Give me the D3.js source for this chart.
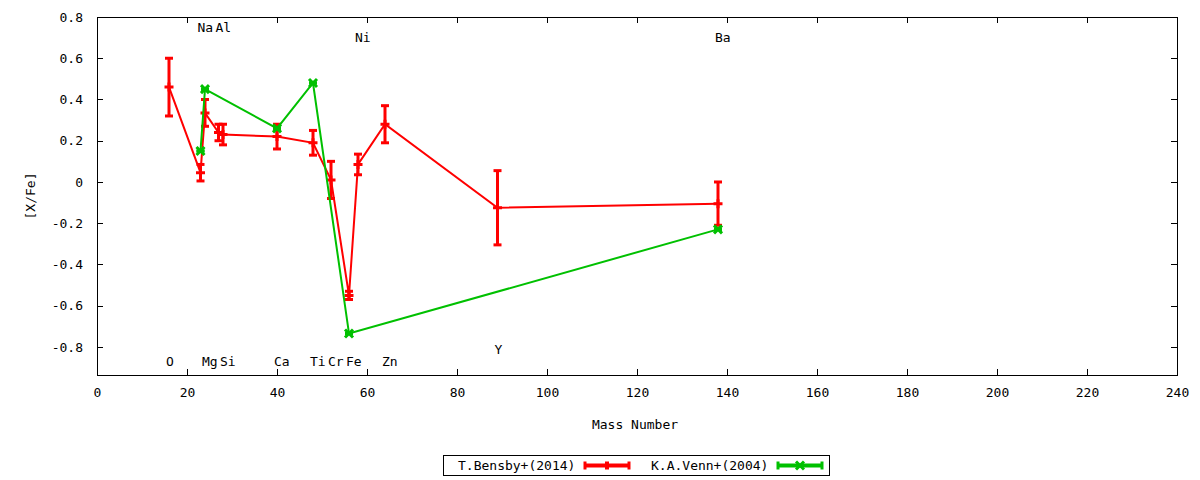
<!DOCTYPE html>
<html>
<head>
<meta charset="utf-8">
<script src="https://cdn.jsdelivr.net/npm/d3@7"></script>
<style>
  body { margin: 0; background: #fff; }
  text { font-family: "DejaVu Sans Mono", monospace; font-size: 13px; fill: #000; }
</style>
</head>
<body>
<div id="chart"></div>
<script>
// T.Bensby+(2014)
var bensbyElements = ["O", "Na", "Mg", "Al", "Si", "Ca", "Ti", "Cr", "Fe", "Ni", "Zn", "Y", "Ba"];
var bensbyMass = [16, 23, 24, 27, 28, 40, 48, 52, 56, 58, 64, 89, 138];
var bensbyValue = [0.46, 0.045, 0.335, 0.24, 0.23, 0.22, 0.19, 0.01, -0.55, 0.085, 0.28, -0.125, -0.105];
var bensbyError = [0.14, 0.04, 0.065, 0.04, 0.05, 0.06, 0.06, 0.09, 0.02, 0.05, 0.09, 0.18, 0.105];

// K.A.Venn+(2004)
var vennMass = [23, 24, 40, 48, 56, 138];
var vennValue = [0.15, 0.45, 0.26, 0.48, -0.735, -0.23];
var vennError = [0, 0, 0, 0, 0, 0];

// element labels (mass, y position)
var labelNames = ["O", "Na", "Mg", "Al", "Si", "Ca", "Ti", "Cr", "Fe", "Ni", "Zn", "Y", "Ba"];
var labelMass = [16, 23, 24, 27, 28, 40, 48, 52, 56, 58, 64, 89, 138];
var labelY = [-0.87, 0.75, -0.87, 0.75, -0.87, -0.87, -0.87, -0.87, -0.87, 0.70, -0.87, -0.81, 0.70];

var xTicks = d3.range(0, 241, 20);
var yTicks = [-0.8, -0.6, -0.4, -0.2, 0, 0.2, 0.4, 0.6, 0.8];

var svgWidth = 1200;
var svgHeight = 480;

var margin = {
    top: 17,
    bottom: 105,
    right: 23,
    left: 97
};

var width = svgWidth - margin.left - margin.right;
var height = svgHeight - margin.top - margin.bottom;

var svg = d3.select("#chart")
    .append("svg")
    .attr("width", svgWidth)
    .attr("height", svgHeight);

var chartGroup = svg.append("g")
    .attr("transform", `translate(${margin.left}, ${margin.top})`);

var xScale = d3.scaleLinear().domain([0, 240]).range([0, width]);
var yScale = d3.scaleLinear().domain([-0.936, 0.8]).range([height, 0]);

// ticks, mirrored on all sides, pointing inward
var tickLen = 6;
var yFormat = d => d === 0 ? "0" : d3.format(".1f")(d).replace("−", "-");

chartGroup.append("g")
    .attr("transform", `translate(0, ${height})`)
    .call(d3.axisBottom(xScale).tickValues(xTicks).tickSize(-tickLen).tickPadding(13).tickFormat(d3.format("d")))
    .call(g => g.select(".domain").remove());
chartGroup.append("g")
    .call(d3.axisTop(xScale).tickValues(xTicks).tickSize(-tickLen).tickFormat(""))
    .call(g => g.select(".domain").remove());
chartGroup.append("g")
    .call(d3.axisLeft(yScale).tickValues(yTicks).tickSize(-tickLen).tickPadding(14).tickFormat(yFormat))
    .call(g => g.select(".domain").remove());
chartGroup.append("g")
    .attr("transform", `translate(${width}, 0)`)
    .call(d3.axisRight(yScale).tickValues(yTicks).tickSize(-tickLen).tickFormat(""))
    .call(g => g.select(".domain").remove());

chartGroup.selectAll(".tick line").attr("stroke", "#000").attr("shape-rendering", "crispEdges");
chartGroup.selectAll(".tick text")
    .style("font-family", "'DejaVu Sans Mono', monospace")
    .style("font-size", "13px")
    .attr("fill", "#000");

// frame
chartGroup.append("rect")
    .attr("x", 0).attr("y", 0)
    .attr("width", width).attr("height", height)
    .attr("fill", "none")
    .attr("stroke", "#000")
    .attr("shape-rendering", "crispEdges");

// axis titles
svg.append("text")
    .attr("x", margin.left + width / 2 - 2)
    .attr("y", 429)
    .attr("text-anchor", "middle")
    .text("Mass Number");

svg.append("text")
    .attr("transform", `translate(35, ${margin.top + height / 2}) rotate(-90)`)
    .attr("text-anchor", "middle")
    .text("[X/Fe]");

// element labels
chartGroup.selectAll(".elabel")
    .data(labelNames)
    .enter()
    .append("text")
    .attr("class", "elabel")
    .attr("x", (d, i) => xScale(labelMass[i]) - 3)
    .attr("y", (d, i) => yScale(labelY[i]))
    .attr("dy", "0.35em")
    .text(d => d);

var red = "#ff0000";
var green = "#00c000";

function drawSeries(mass, value, error, color, marker) {
    var pts = mass.map((m, i) => ({ x: xScale(m), y: yScale(value[i]), lo: yScale(value[i] - error[i]), hi: yScale(value[i] + error[i]) }));
    var g = chartGroup.append("g");

    var line = d3.line().x(d => d.x).y(d => d.y);
    g.append("path")
        .datum(pts)
        .attr("d", line)
        .attr("fill", "none")
        .attr("stroke", color)
        .attr("stroke-width", 2);

    // error bars
    g.selectAll(".stem").data(pts).enter().append("line")
        .attr("x1", d => d.x).attr("x2", d => d.x)
        .attr("y1", d => d.lo).attr("y2", d => d.hi)
        .attr("stroke", color).attr("stroke-width", 3);
    [["lo"], ["hi"]].forEach(k => {
        g.selectAll(".cap" + k).data(pts).enter().append("line")
            .attr("x1", d => d.x - 4).attr("x2", d => d.x + 4)
            .attr("y1", d => d[k]).attr("y2", d => d[k])
            .attr("stroke", color).attr("stroke-width", 3);
    });

    // point markers
    if (marker === "plus") {
        g.selectAll(".pt").data(pts).enter().append("path")
            .attr("d", d => `M${d.x - 4.5},${d.y}H${d.x + 4.5}M${d.x},${d.y - 4.5}V${d.y + 4.5}`)
            .attr("stroke", color).attr("stroke-width", 3);
    } else {
        g.selectAll(".pt").data(pts).enter().append("path")
            .attr("d", d => `M${d.x - 4},${d.y - 4}L${d.x + 4},${d.y + 4}M${d.x - 4},${d.y + 4}L${d.x + 4},${d.y - 4}`)
            .attr("stroke", color).attr("stroke-width", 3);
    }
}

drawSeries(bensbyMass, bensbyValue, bensbyError, red, "plus");
drawSeries(vennMass, vennValue, vennError, green, "cross");

// legend
var legend = svg.append("g");
legend.append("rect")
    .attr("x", 443.5).attr("y", 455.5)
    .attr("width", 386).attr("height", 20)
    .attr("fill", "none").attr("stroke", "#000")
    .attr("shape-rendering", "crispEdges");

var legendItems = [
    { name: "T.Bensby+(2014)", color: red, textX: 458, x0: 585, x1: 629, marker: "plus" },
    { name: "K.A.Venn+(2004)", color: green, textX: 651, x0: 778, x1: 822, marker: "cross" }
];

legendItems.forEach(item => {
    var ly = 465.5;
    legend.append("text")
        .attr("x", item.textX).attr("y", ly)
        .attr("dy", "0.35em")
        .text(item.name);
    legend.append("line")
        .attr("x1", item.x0).attr("x2", item.x1)
        .attr("y1", ly).attr("y2", ly)
        .attr("stroke", item.color).attr("stroke-width", 4);
    [item.x0, item.x1].forEach(x => {
        legend.append("line")
            .attr("x1", x).attr("x2", x)
            .attr("y1", ly - 4).attr("y2", ly + 4)
            .attr("stroke", item.color).attr("stroke-width", 3);
    });
    var mx = (item.x0 + item.x1) / 2;
    if (item.marker === "plus") {
        legend.append("rect")
            .attr("x", mx - 2).attr("y", ly - 4)
            .attr("width", 4).attr("height", 8)
            .attr("fill", item.color);
    } else {
        legend.append("path")
            .attr("d", `M${mx - 4},${ly - 4}L${mx + 4},${ly + 4}M${mx - 4},${ly + 4}L${mx + 4},${ly - 4}`)
            .attr("stroke", item.color).attr("stroke-width", 3);
    }
});
</script>
</body>
</html>
